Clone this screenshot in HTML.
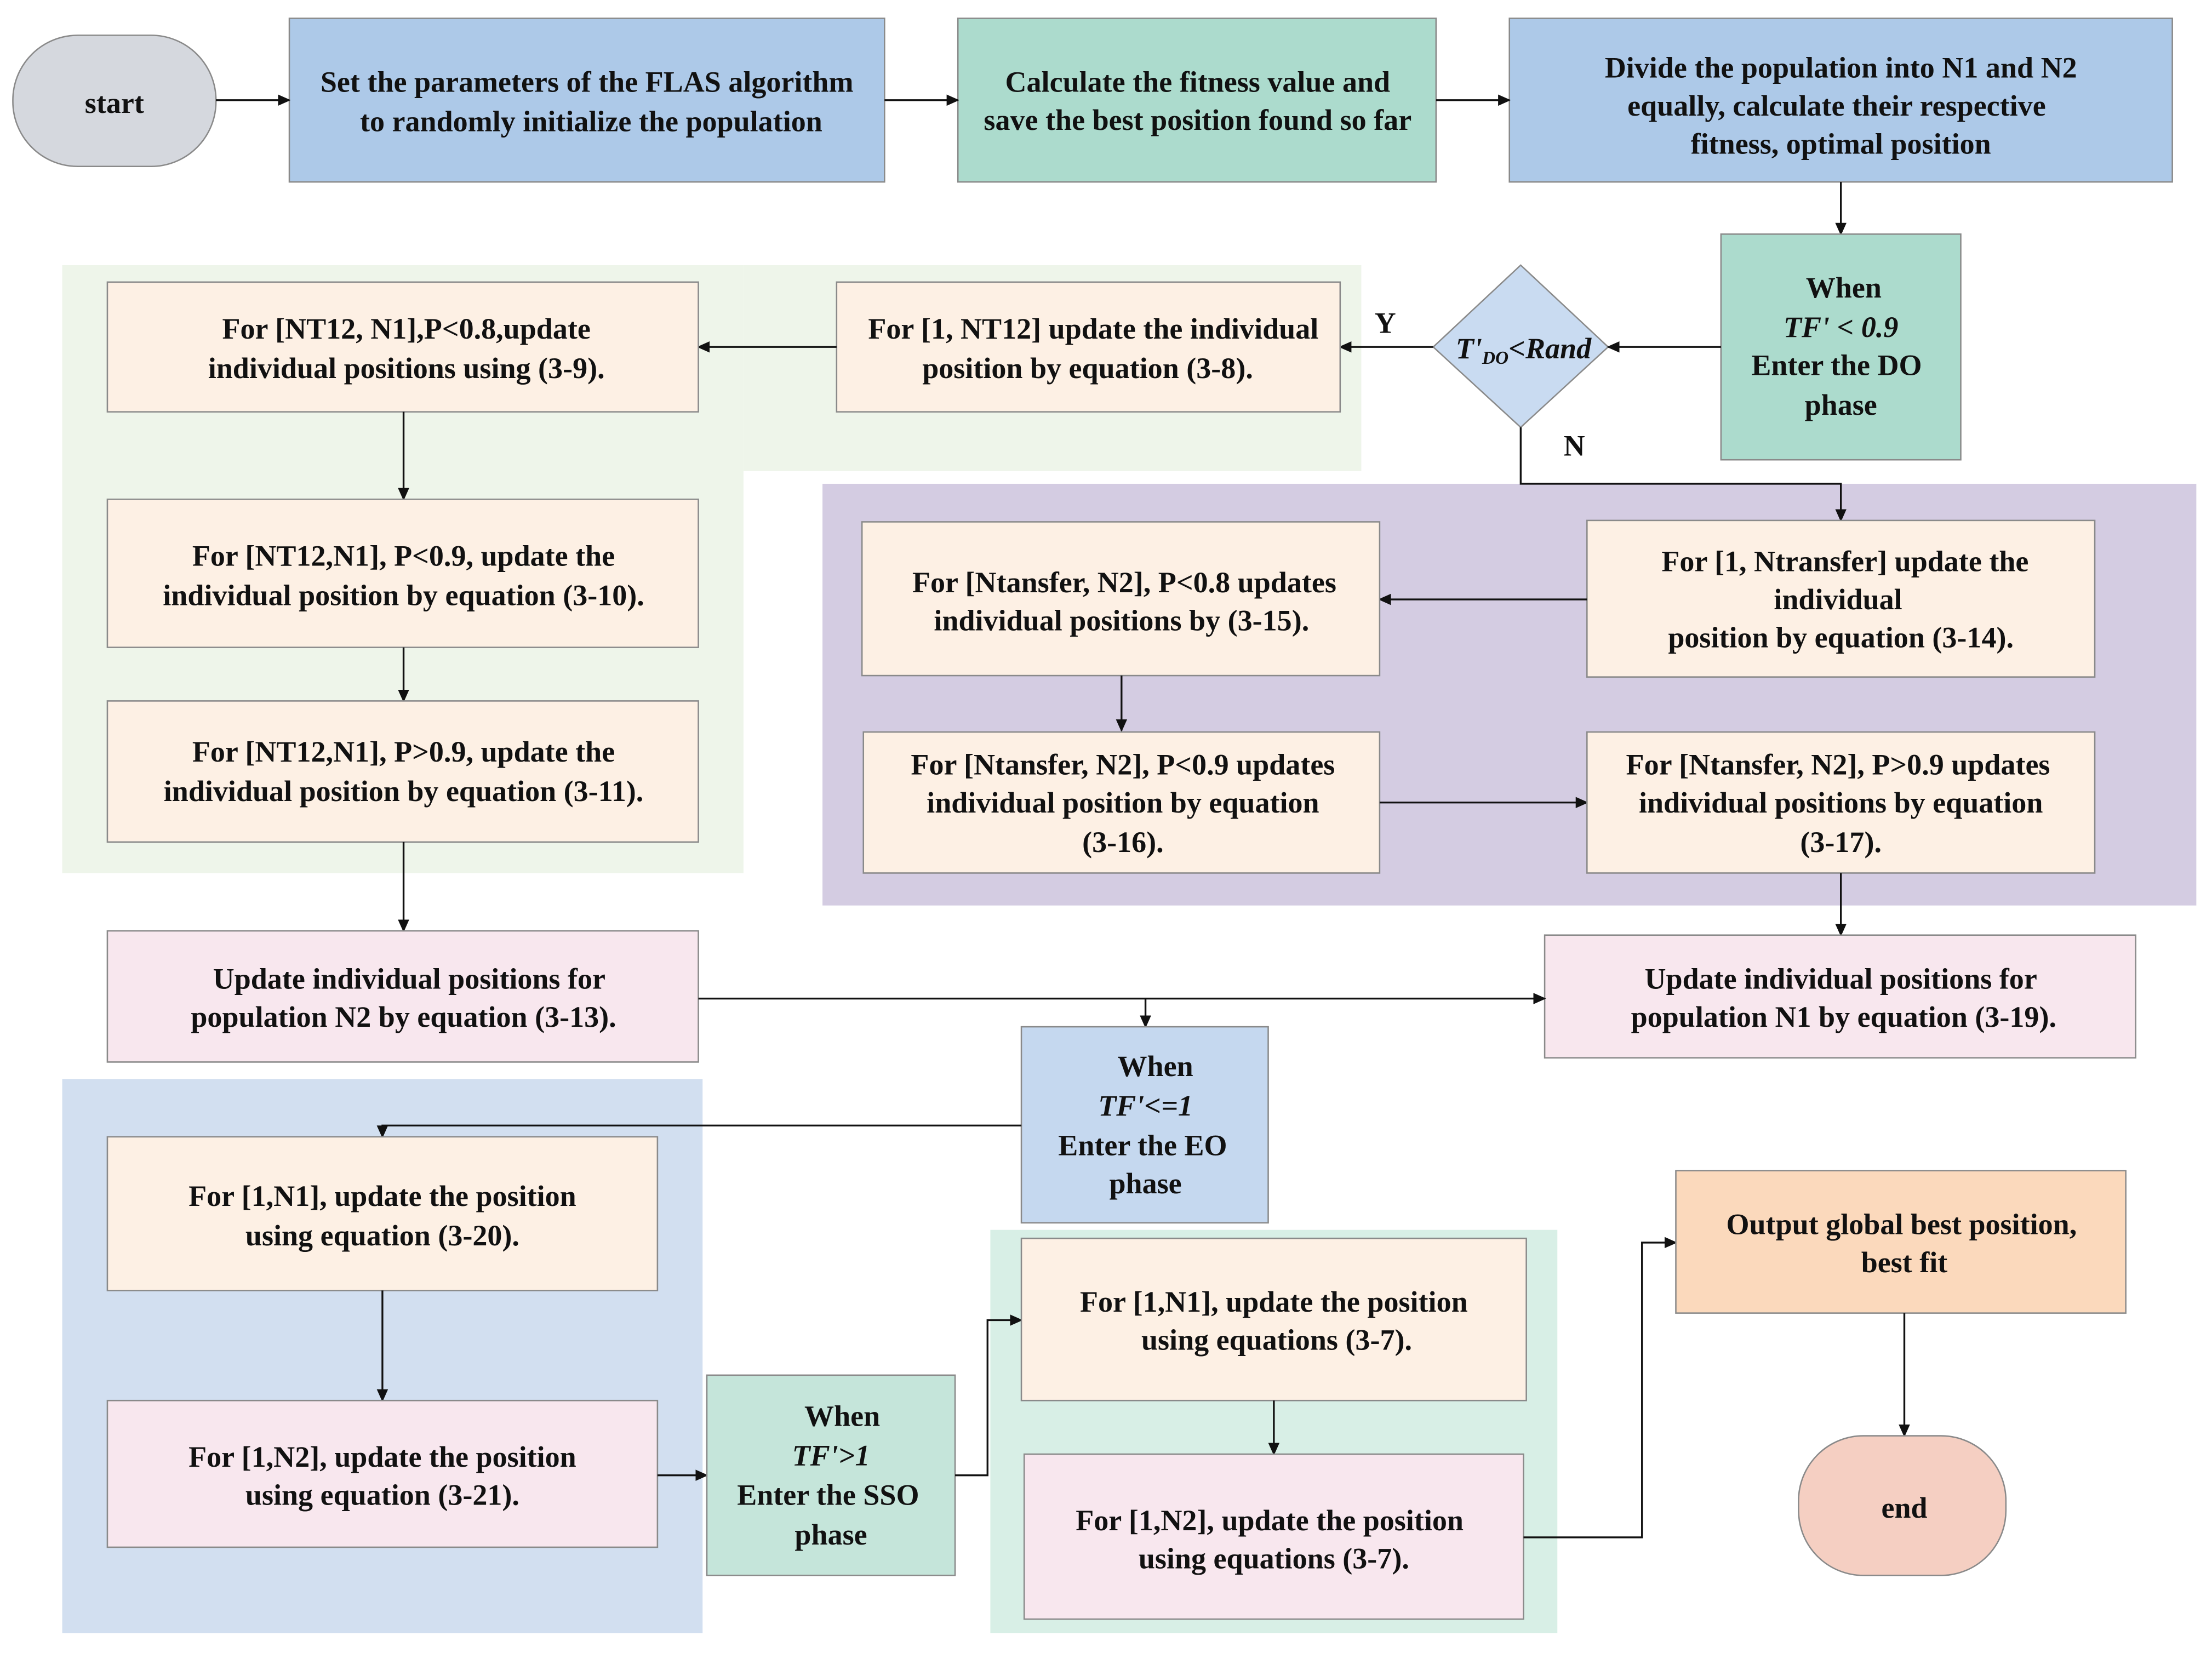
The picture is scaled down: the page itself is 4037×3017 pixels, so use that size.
<!DOCTYPE html>
<html><head><meta charset="utf-8"><style>
html,body{margin:0;padding:0;background:#fff;}
svg{display:block;}
text{font-family:"Liberation Serif",serif;font-weight:bold;font-size:21px;fill:#111;text-anchor:middle;}
.b{stroke:#8a8a8a;stroke-width:1;}
.l{stroke:#111;stroke-width:1.3;fill:none;}
</style></head><body>
<svg width="4037" height="3017" viewBox="0 0 1568 1172" xmlns="http://www.w3.org/2000/svg">
<defs><marker id="a" markerWidth="10" markerHeight="10" refX="8" refY="5" orient="auto" markerUnits="userSpaceOnUse"><path d="M0,1 L9,5 L0,9 Z" fill="#111"/></marker></defs>
<rect width="1568" height="1172" fill="#fff"/>
<!-- backgrounds -->
<rect x="44" y="188" width="483" height="431" fill="#eef5ea"/>
<rect x="527" y="188" width="438" height="146" fill="#eef5ea"/>
<rect x="583" y="343" width="974" height="299" fill="#d4cce2"/>
<rect x="44" y="765" width="454" height="393" fill="#d2dff0"/>
<rect x="702" y="872" width="402" height="286" fill="#d8efe6"/>
<!-- top row -->
<rect class="b" x="9" y="25" width="144" height="93" rx="46" fill="#d5d8de"/>
<text x="81" y="80">start</text>
<rect class="b" x="205" y="13" width="422" height="116" fill="#adc9e8"/>
<text x="416" y="65">Set the parameters of the FLAS algorithm</text>
<text x="419" y="93">to randomly initialize the population</text>
<rect class="b" x="679" y="13" width="339" height="116" fill="#acdbcd"/>
<text x="849" y="65">Calculate the fitness value and</text>
<text x="849" y="92">save the best position found so far</text>
<rect class="b" x="1070" y="13" width="470" height="116" fill="#adc9e8"/>
<text x="1305" y="55">Divide the population into N1 and N2</text>
<text x="1302" y="82">equally, calculate their respective</text>
<text x="1305" y="109">fitness,  optimal position</text>
<path class="l" d="M153,71 H205" marker-end="url(#a)"/>
<path class="l" d="M627,71 H679" marker-end="url(#a)"/>
<path class="l" d="M1018,71 H1070" marker-end="url(#a)"/>
<path class="l" d="M1305,129 V166" marker-end="url(#a)"/>
<!-- DO -->
<rect class="b" x="1220" y="166" width="170" height="160" fill="#acdbcd"/>
<text x="1307" y="211">When</text>
<text x="1305" y="239" font-style="italic">TF' &lt; 0.9</text>
<text x="1302" y="266">Enter the DO</text>
<text x="1305" y="294">phase</text>
<polygon class="b" points="1078,188 1140,246 1078,303 1016,246" fill="#c9dbf1"/>
<text x="1080" y="254" font-style="italic" font-size="20">T'<tspan font-size="13" dy="4">DO</tspan><tspan dy="-4">&lt;Rand</tspan></text>
<path class="l" d="M1220,246 H1140" marker-end="url(#a)"/>
<text x="982" y="236">Y</text>
<text x="1116" y="323">N</text>
<path class="l" d="M1016,246 H950" marker-end="url(#a)"/>
<rect class="b" x="593" y="200" width="357" height="92" fill="#fdf0e4"/>
<text x="775" y="240">For [1, NT12] update the individual</text>
<text x="771" y="268">position by equation (3-8).</text>
<path class="l" d="M593,246 H495" marker-end="url(#a)"/>
<rect class="b" x="76" y="200" width="419" height="92" fill="#fdf0e4"/>
<text x="288" y="240">For [NT12, N1],P&lt;0.8,update</text>
<text x="288" y="268">individual positions using (3-9).</text>
<path class="l" d="M286,292 V354" marker-end="url(#a)"/>
<rect class="b" x="76" y="354" width="419" height="105" fill="#fdf0e4"/>
<text x="286" y="401">For [NT12,N1], P&lt;0.9, update the</text>
<text x="286" y="429">individual position by equation (3-10).</text>
<path class="l" d="M286,459 V497" marker-end="url(#a)"/>
<rect class="b" x="76" y="497" width="419" height="100" fill="#fdf0e4"/>
<text x="286" y="540">For [NT12,N1], P&gt;0.9, update the</text>
<text x="286" y="568">individual position by equation (3-11).</text>
<path class="l" d="M286,597 V660" marker-end="url(#a)"/>
<rect class="b" x="76" y="660" width="419" height="93" fill="#f8e7ee"/>
<text x="290" y="701">Update individual positions for</text>
<text x="286" y="728">population N2 by equation (3-13).</text>
<!-- purple section -->
<path class="l" d="M1078,303 V343 H1305 V369" marker-end="url(#a)"/>
<rect class="b" x="1125" y="369" width="360" height="111" fill="#fdf0e4"/>
<text x="1308" y="405">For [1, Ntransfer] update the</text>
<text x="1303" y="432">individual</text>
<text x="1305" y="459">position by equation (3-14).</text>
<path class="l" d="M1125,425 H978" marker-end="url(#a)"/>
<rect class="b" x="611" y="370" width="367" height="109" fill="#fdf0e4"/>
<text x="797" y="420">For [Ntansfer, N2], P&lt;0.8 updates</text>
<text x="795" y="447">individual positions by (3-15).</text>
<path class="l" d="M795,479 V518" marker-end="url(#a)"/>
<rect class="b" x="612" y="519" width="366" height="100" fill="#fdf0e4"/>
<text x="796" y="549">For [Ntansfer, N2], P&lt;0.9 updates</text>
<text x="796" y="576">individual position by equation</text>
<text x="796" y="604">(3-16).</text>
<path class="l" d="M978,569 H1125" marker-end="url(#a)"/>
<rect class="b" x="1125" y="519" width="360" height="100" fill="#fdf0e4"/>
<text x="1303" y="549">For [Ntansfer, N2], P&gt;0.9 updates</text>
<text x="1305" y="576">individual positions by equation</text>
<text x="1305" y="604">(3-17).</text>
<path class="l" d="M1305,619 V663" marker-end="url(#a)"/>
<rect class="b" x="1095" y="663" width="419" height="87" fill="#f8e7ee"/>
<text x="1305" y="701">Update individual positions for</text>
<text x="1307" y="728">population N1 by equation (3-19).</text>
<path class="l" d="M495,708 H1095" marker-end="url(#a)"/>
<path class="l" d="M812,708 V728" marker-end="url(#a)"/>
<!-- EO -->
<rect class="b" x="724" y="728" width="175" height="139" fill="#c5d8ef"/>
<text x="819" y="763">When</text>
<text x="812" y="791" font-style="italic">TF'&lt;=1</text>
<text x="810" y="819">Enter the EO</text>
<text x="812" y="846">phase</text>
<path class="l" d="M724,798 H271 V806" marker-end="url(#a)"/>
<rect class="b" x="76" y="806" width="390" height="109" fill="#fdf0e4"/>
<text x="271" y="855">For [1,N1], update the position</text>
<text x="271" y="883">using equation (3-20).</text>
<path class="l" d="M271,915 V993" marker-end="url(#a)"/>
<rect class="b" x="76" y="993" width="390" height="104" fill="#f8e7ee"/>
<text x="271" y="1040">For [1,N2], update the position</text>
<text x="271" y="1067">using equation (3-21).</text>
<path class="l" d="M466,1046 H501" marker-end="url(#a)"/>
<rect class="b" x="501" y="975" width="176" height="142" fill="#c5e5da"/>
<text x="597" y="1011">When</text>
<text x="589" y="1039" font-style="italic">TF'&gt;1</text>
<text x="587" y="1067">Enter the SSO</text>
<text x="589" y="1095">phase</text>
<path class="l" d="M677,1046 H700 V936 H724" marker-end="url(#a)"/>
<rect class="b" x="724" y="878" width="358" height="115" fill="#fdf0e4"/>
<text x="903" y="930">For [1,N1], update the position</text>
<text x="905" y="957">using equations (3-7).</text>
<path class="l" d="M903,993 V1031" marker-end="url(#a)"/>
<rect class="b" x="726" y="1031" width="354" height="117" fill="#f8e7ee"/>
<text x="900" y="1085">For [1,N2], update the position</text>
<text x="903" y="1112">using equations (3-7).</text>
<path class="l" d="M1080,1090 H1164 V881 H1188" marker-end="url(#a)"/>
<rect class="b" x="1188" y="830" width="319" height="101" fill="#fbd9bc"/>
<text x="1348" y="875">Output global best position,</text>
<text x="1350" y="902">best fit</text>
<path class="l" d="M1350,931 V1018" marker-end="url(#a)"/>
<rect class="b" x="1275" y="1018" width="147" height="99" rx="46" fill="#f5cfc2"/>
<text x="1350" y="1076">end</text>
</svg>
</body></html>
